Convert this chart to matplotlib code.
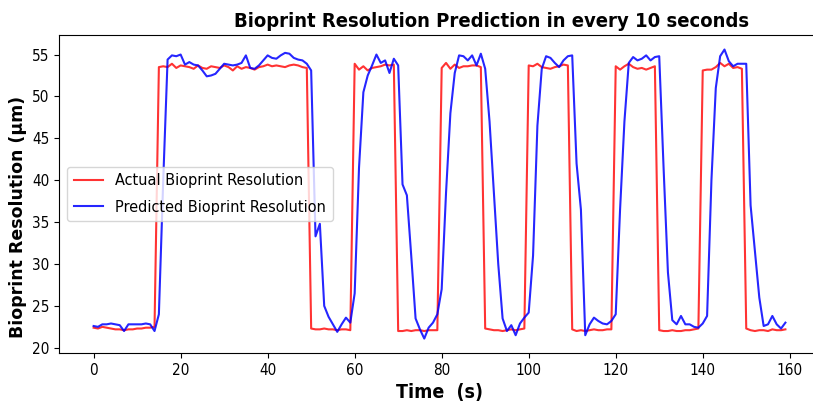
import numpy as np
import matplotlib
matplotlib.use('Agg')
import matplotlib.pyplot as plt
from matplotlib import font_manager

# time steps (s)
time_s = list(range(160))

actual = [22.4, 22.3, 22.5, 22.4, 22.3, 22.2, 22.2, 22.1, 22.2, 22.2, 22.3, 22.3, 22.4, 22.4, 22.5,
          53.5, 53.6, 53.5, 53.9, 53.4, 53.7, 53.6, 53.5, 53.3, 53.7, 53.4, 53.3, 53.6, 53.5, 53.4,
          53.7, 53.5, 53.1, 53.6, 53.3, 53.5, 53.4, 53.2, 53.5, 53.6, 53.8, 53.6, 53.7, 53.6, 53.5,
          53.7, 53.8, 53.7, 53.5, 53.4,
          22.3, 22.2, 22.2, 22.3, 22.2, 22.2, 22.1, 22.2, 22.2, 22.1,
          53.9, 53.2, 53.6, 53.1, 53.4, 53.5, 53.6, 53.8, 53.7, 53.8,
          22.0, 22.0, 22.1, 22.0, 22.1, 22.1, 22.0, 22.1, 22.1, 22.1,
          53.4, 54.0, 53.3, 53.8, 53.4, 53.6, 53.6, 53.7, 53.7, 53.5,
          22.3, 22.2, 22.1, 22.1, 22.0, 22.1, 22.2, 22.1, 22.2, 22.3,
          53.7, 53.6, 53.9, 53.5, 53.4, 53.3, 53.5, 53.6, 53.8, 53.7,
          22.2, 22.0, 22.1, 22.0, 22.1, 22.2, 22.1, 22.1, 22.2, 22.2,
          53.6, 53.2, 53.6, 53.9, 53.5, 53.3, 53.4, 53.2, 53.4, 53.6,
          22.1, 22.0, 22.0, 22.1, 22.0, 22.0, 22.1, 22.1, 22.2, 22.3,
          53.1, 53.2, 53.2, 53.5, 54.0, 53.6, 53.9, 53.4, 53.5, 53.3,
          22.3, 22.1, 22.0, 22.1, 22.1, 22.0, 22.2, 22.1, 22.1, 22.2]

predicted = [22.6, 22.5, 22.8, 22.8, 22.9, 22.8, 22.7, 22.0, 22.8, 22.8, 22.8, 22.8, 22.9, 22.8, 22.0,
             24.0, 40.0, 54.4, 54.9, 54.8, 55.0, 53.8, 54.1, 53.8, 53.7, 53.1, 52.4, 52.5, 52.7, 53.3,
             53.9, 53.8, 53.7, 53.8, 54.0, 54.9, 53.4, 53.3, 53.7, 54.3, 54.9, 54.6, 54.5, 54.9, 55.2,
             55.1, 54.6, 54.4, 54.3, 53.9,
             53.1, 33.3, 34.8, 25.0, 23.7, 22.8, 21.9, 22.8, 23.6, 23.0,
             26.5, 41.5, 50.5, 52.5, 53.7, 55.0, 54.0, 54.3, 52.8, 54.5,
             53.7, 39.5, 38.2, 31.0, 23.5, 22.2, 21.1, 22.4, 23.0, 24.0,
             27.0, 38.5, 48.0, 52.8, 54.9, 54.8, 54.3, 54.9, 53.7, 55.1,
             53.3, 47.0, 38.5, 30.0, 23.5, 22.0, 22.7, 21.5, 22.9, 23.6,
             24.2, 31.0, 46.5, 53.3, 54.8, 54.6, 54.0, 53.5, 54.3, 54.8,
             54.9, 42.0, 36.5, 21.5, 22.8, 23.6, 23.2, 22.9, 22.8, 23.2,
             24.0, 36.5, 47.0, 54.0, 54.7, 54.3, 54.5, 54.9, 54.3, 54.7,
             54.8, 41.5, 29.0, 23.3, 22.8, 23.8, 22.8, 22.8, 22.5, 22.4,
             22.9, 23.8, 40.0, 51.0, 54.8, 55.6, 54.2, 53.6, 53.9, 53.9,
             53.9, 37.0, 31.5, 26.0, 22.6, 22.8, 23.8, 22.8, 22.3, 23.0]

# use a condensed face if one is there, the source picture is squeezed
names = [f.name for f in font_manager.fontManager.ttflist]
fam = 'DejaVu Sans'
stretch = 'normal'
if 'DejaVu Sans Condensed' in names:
    fam = 'DejaVu Sans Condensed'
elif any(f.name == 'DejaVu Sans' and f.stretch == 'condensed' for f in font_manager.fontManager.ttflist):
    stretch = 'condensed'
plt.rcParams['font.family'] = [fam, 'DejaVu Sans']
plt.rcParams['font.stretch'] = stretch

fig = plt.figure(figsize=(8.13, 4.03), dpi=100)
ax = fig.add_axes([0.0726, 0.124, 0.936, 0.789])

ax.plot(time_s, actual, color='red', linewidth=1.5, alpha=0.8, label='Actual Bioprint Resolution')
ax.plot(time_s, predicted, color='blue', linewidth=1.5, alpha=0.85, label='Predicted Bioprint Resolution')

# the right edge of the box is cut off in the source
ax.spines['right'].set_visible(False)

ax.set_title('Bioprint Resolution Prediction in every 10 seconds', fontsize=14.5,
             fontweight='bold', x=0.568)
ax.set_xlabel('Time  (s)', fontsize=14, fontweight='bold')
ax.set_ylabel('Bioprint Resolution (μm)', fontsize=12.5, fontweight='bold',
              family=['DejaVu Sans'], stretch='normal')
ax.yaxis.set_label_coords(-0.042, 0.428)
ax.set_xticks(range(0, 161, 20))
ax.set_yticks(range(20, 56, 5))
ax.tick_params(labelsize=11)
ax.legend(loc='center left', fontsize=11.6, handlelength=1.8, labelspacing=0.7)

fig.savefig('out.png', dpi=100)
